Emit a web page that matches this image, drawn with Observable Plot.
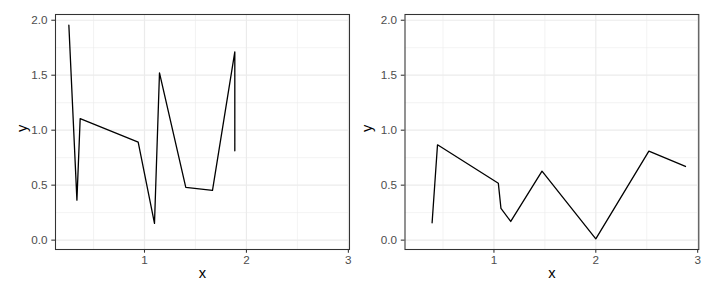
<!DOCTYPE html>
<html>
<head>
<meta charset="utf-8">
<script src="https://cdn.jsdelivr.net/npm/d3@7"></script>
<script src="https://cdn.jsdelivr.net/npm/@observablehq/plot@0.6"></script>
<style>
  html, body { margin: 0; padding: 0; background: white; }
  #wrap { display: flex; width: 714px; height: 299px; }
  #wrap > div { width: 357px; height: 299px; }
  svg { display: block; }
</style>
</head>
<body>
<div id="wrap"><div id="left"></div><div id="right"></div></div>
<script>
// Left panel path (data order)
const leftX = [0.258, 0.337, 0.369, 0.938, 1.098, 1.147, 1.405, 1.667, 1.886, 1.886];
const leftY = [1.955, 0.364, 1.106, 0.891, 0.152, 1.521, 0.479, 0.452, 1.712, 0.812];
// Right panel path (data order)
const rightX = [0.393, 0.446, 1.043, 1.069, 1.165, 1.472, 2.000, 2.521, 2.880];
const rightY = [0.158, 0.867, 0.518, 0.288, 0.170, 0.627, 0.012, 0.809, 0.670];

const xMajor = [1, 2, 3];
const xMinor = [0.5, 1.5, 2.5];
const yMajor = [0, 0.5, 1, 1.5, 2];
const yMinor = [0.25, 0.75, 1.25, 1.75];
const xTitle = "x";
const yTitle = "y";

// shared scales (ggplot default 5% expansion over both panels)
const allX = leftX.concat(rightX), allY = leftY.concat(rightY);
function expand(v) {
  const lo = d3.min(v), hi = d3.max(v), p = (hi - lo) * 0.05;
  return [lo - p, hi + p];
}
const xDom = expand(allX), yDom = expand(allY);

function panel(xs, ys, margins, yTitleDx) {
  const data = xs.map((x, i) => ({x, y: ys[i]}));
  const axisStyle = {stroke: "#333333", strokeWidth: 1.07, fill: "#4D4D4D", fontSize: 11.7, tickSize: 3.7};
  return Plot.plot({
    width: 357, height: 299,
    ...margins,
    style: {fontFamily: "'Liberation Sans', Arial, sans-serif", background: "white", overflow: "visible"},
    x: {domain: xDom, axis: null},
    y: {domain: yDom, axis: null},
    marks: [
      Plot.ruleX(xMinor, {stroke: "#EBEBEB", strokeWidth: 0.6}),
      Plot.ruleY(yMinor, {stroke: "#EBEBEB", strokeWidth: 0.6}),
      Plot.ruleX(xMajor, {stroke: "#EBEBEB", strokeWidth: 1.2}),
      Plot.ruleY(yMajor, {stroke: "#EBEBEB", strokeWidth: 1.2}),
      Plot.line(data, {x: "x", y: "y", stroke: "black", strokeWidth: 1.3}),
      Plot.frame({stroke: "#333333", strokeWidth: 1.07}),
      Plot.axisX(xMajor, {...axisStyle, tickPadding: 2.5, tickFormat: d3.format("d"), label: null}),
      Plot.axisY(yMajor, {...axisStyle, tickPadding: 4.3, tickFormat: d3.format(".1f"), label: null}),
      Plot.text([xTitle], {frameAnchor: "bottom", dy: 28, fontSize: 14.7, fill: "black"}),
      Plot.text([yTitle], {frameAnchor: "left", dx: yTitleDx, rotate: -90, fontSize: 14.7, fill: "black"})
    ]
  });
}

document.getElementById("left").append(
  panel(leftX, leftY, {marginLeft: 55, marginRight: 8, marginTop: 14, marginBottom: 50}, -33.3));
document.getElementById("right").append(
  panel(rightX, rightY, {marginLeft: 47.5, marginRight: 15.7, marginTop: 14, marginBottom: 50}, -37.5));
</script>
</body>
</html>
